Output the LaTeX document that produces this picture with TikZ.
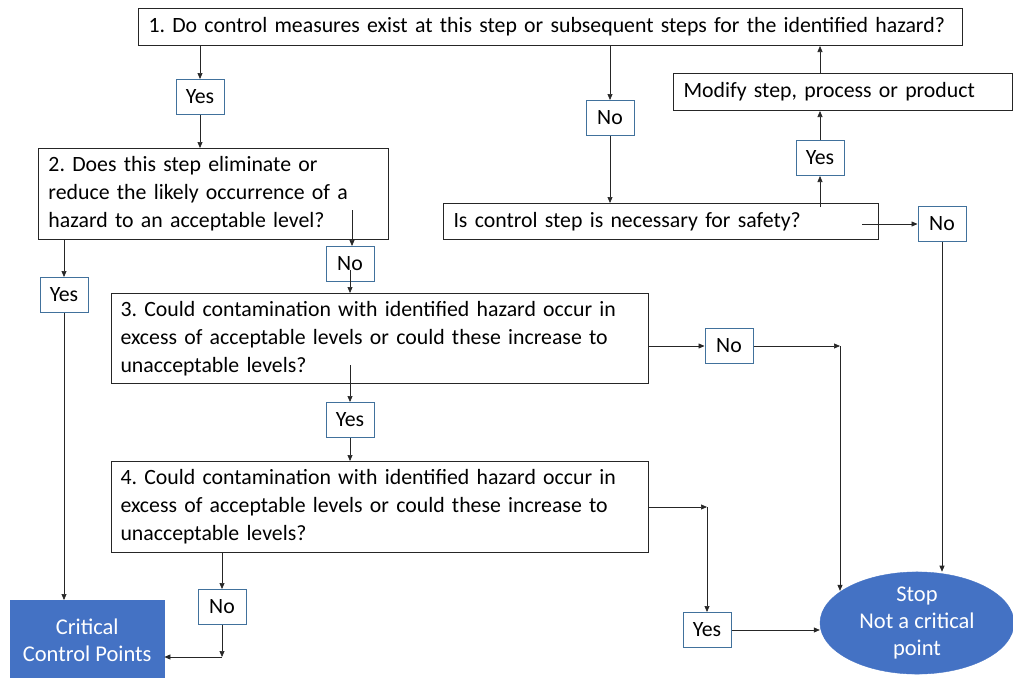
\documentclass[tikz,border=0pt]{standalone}
\usepackage{fontspec}
\setmainfont{Carlito}
\usetikzlibrary{positioning, shapes.geometric, arrows.meta, calc}
\definecolor{ink}{HTML}{262626}
\definecolor{tagline}{HTML}{41719C}
\definecolor{fillblue}{HTML}{4472C4}

\begin{document}
\frenchspacing
\begin{tikzpicture}[x=1pt, y=-1pt, font=\fontsize{21.8}{28}\selectfont,
  q/.style={draw=ink, line width=1pt, anchor=north west, align=left, inner xsep=10pt, inner ysep=2pt},
  tag/.style={draw=tagline, line width=1pt, minimum width=48pt, minimum height=35pt, inner sep=0pt},
  term/.style={fill=fillblue, draw=fillblue, text=white, align=center, inner sep=0pt, font=\fontsize{22.5}{27}\selectfont},
  arr/.style={-{Triangle[length=6pt, width=5pt]}, line width=0.7pt, ink}
]
  \useasboundingbox (0,0) rectangle (1013,678);

  \node[q, text width=804pt, minimum height=37pt, inner xsep=10pt] (q1) at (138,8) {1. Do control measures exist at this step or subsequent steps for the identified hazard?};
  \node[q, text width=330pt, minimum height=91pt] (q2) at (38,148) {2. Does this step eliminate or\\reduce the likely occurrence of a\\hazard to an acceptable level?};
  \node[q, text width=519pt, minimum height=90pt, inner xsep=9pt] (q3) at (111,293) {3. Could contamination with identified hazard occur in\\excess of acceptable levels or could these increase to\\unacceptable levels?};
  \node[q, text width=519pt, minimum height=91pt, inner xsep=9pt] (q4) at (111,461) {4. Could contamination with identified hazard occur in\\excess of acceptable levels or could these increase to\\unacceptable levels?};
  \node[q, text width=415pt, minimum height=36pt] (qs) at (443,203) {Is control step is necessary for safety?};
  \node[q, text width=319pt, minimum height=37pt] (mod) at (673,73) {Modify step, process or product};

  \node[tag] (yes1) at (200,97) {Yes};
  \node[tag] (no1) at (610,118) {No};
  \node[tag] (yes2) at (820,158) {Yes};
  \node[tag] (no3) at (942,224) {No};
  \node[tag] (no2) at (350,264) {No};
  \node[tag] (yes3) at (64,295) {Yes};
  \node[tag] (no4) at (729,346) {No};
  \node[tag] (yes4) at (350,420) {Yes};
  \node[tag] (no5) at (222,607) {No};
  \node[tag] (yes5) at (707,630) {Yes};

  \node[term, anchor=north west, minimum width=154pt, minimum height=80pt] (ccp) at (10,600) {Critical\\Control Points};
  \node[term, ellipse, minimum width=194pt, minimum height=94pt] (stop) at (917,623) {Stop\\Not a critical\\point};

  % bends and loose ends
  \coordinate (qsout) at (862,224);
  \coordinate (q2out) at (352,210);
  \coordinate (q3out) at (350,365);
  \coordinate (nocorner) at (840,346);
  \coordinate (yescorner) at (q4.east -| yes5);
  \coordinate (ccpcorner) at (222,657);

  % question 1
  \draw[arr] (q1.south -| yes1.north) -- (yes1.north);
  \draw[arr] (yes1.south) -- (yes1.south |- q2.north);
  \draw[arr] (q1.south -| no1.north) -- (no1.north);
  \draw[arr] (no1.south) -- (no1.south |- qs.north);
  % safety step
  \draw[arr] ([yshift=-4pt]qs.north -| yes2) -- (yes2.south);
  \draw[arr] (yes2.north) -- (yes2.north |- mod.south);
  \draw[arr] (mod.north -| yes2) -- (q1.south -| yes2);
  \draw[arr] (qsout) -- (qsout -| no3.west);
  \draw[arr] (no3.south) -- (no3.south |- stop.north);
  % question 2
  \draw[arr] (q2out) -- (q2out |- no2.north);
  \draw[arr] ([yshift=-6pt]no2.center) -- (no2.center |- q3.north);
  \draw[arr] (q2.south -| yes3) -- (yes3.north);
  \draw[arr] (yes3.south) -- (yes3.south |- ccp.north);
  % question 3
  \draw[arr] (q3out) -- (q3out |- yes4.north);
  \draw[arr] (yes4.south) -- (yes4.south |- q4.north);
  \draw[arr] (no4.west -| q3.east) -- (no4.west);
  \draw[arr] (no4.east) -- (nocorner);
  \draw[arr] (nocorner) -- (nocorner |- stop.157);
  % question 4
  \draw[arr] (q4.east) -- (yescorner);
  \draw[arr] (yescorner) -- (yes5.north);
  \draw[arr] (yes5.east) -- (yes5.east -| stop.west);
  \draw[arr] (q4.south -| no5) -- (no5.north);
  \draw[arr] (no5.south) -- (ccpcorner);
  \draw[arr] (ccpcorner) -- (ccpcorner -| ccp.east);
\end{tikzpicture}
\end{document}
